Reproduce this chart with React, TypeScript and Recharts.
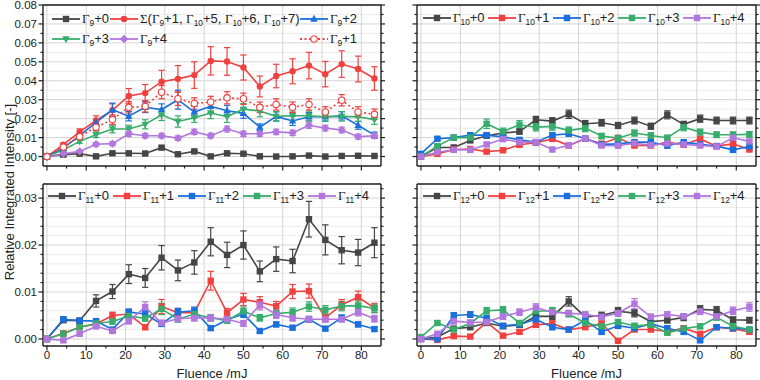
import React from 'react'
import { LineChart, Line, XAxis, YAxis, ReferenceLine, ErrorBar, Legend } from 'recharts'

type Shape = 'square' | 'circle' | 'up' | 'down' | 'diamond' | 'open'

interface Series {
  key: string
  label: string
  color: string
  shape: Shape
  values: number[]
  errors: number[]
  dotted?: boolean
}

const fluence = [0, 4.17, 8.33, 12.5, 16.67, 20.83, 25, 29.17, 33.33, 37.5, 41.67, 45.83, 50, 54.17, 58.33, 62.5, 66.67, 70.83, 75, 79.17, 83.33]

// Γ9 panel
const g9p0 = [0, 0.001, 0.0015, 0.0001, 0.0017, 0.0017, 0.0016, 0.0047, 0.0012, 0.0027, 0.0001, 0.0017, 0.0015, 0.0001, 0, 0.0001, 0.0005, 0, 0.0003, 0.0004, 0.0003]
const g9p0Err = [0, 0.0003, 0.0004, 0.0003, 0.0004, 0.0004, 0.0004, 0.0006, 0.0004, 0.0005, 0.0003, 0.0004, 0.0004, 0.0003, 0.0003, 0.0003, 0.0003, 0.0003, 0.0003, 0.0003, 0.0003]
const g9Sum = [0, 0.0063, 0.013, 0.019, 0.0245, 0.032, 0.0335, 0.0395, 0.041, 0.043, 0.0505, 0.0502, 0.047, 0.037, 0.0425, 0.045, 0.048, 0.0435, 0.0488, 0.0462, 0.0412]
const g9SumErr = [0, 0.0008, 0.0016, 0.0025, 0.0033, 0.0039, 0.0045, 0.006, 0.007, 0.007, 0.0075, 0.0073, 0.0066, 0.0055, 0.0062, 0.0066, 0.007, 0.0067, 0.007, 0.0068, 0.0062]
const g9p2 = [0, 0.0045, 0.011, 0.018, 0.0247, 0.0213, 0.026, 0.0248, 0.03, 0.0235, 0.0265, 0.0242, 0.0228, 0.0155, 0.0212, 0.0188, 0.021, 0.021, 0.0215, 0.0165, 0.0113]
const g9p2Err = [0, 0.0006, 0.0012, 0.0016, 0.0035, 0.0025, 0.0028, 0.003, 0.005, 0.003, 0.0032, 0.0028, 0.0026, 0.0017, 0.0024, 0.0024, 0.0022, 0.0022, 0.0022, 0.0021, 0.0016]
const g9p3 = [0, 0.0035, 0.008, 0.0115, 0.0145, 0.0145, 0.017, 0.022, 0.0185, 0.0205, 0.023, 0.021, 0.025, 0.024, 0.0212, 0.0215, 0.0215, 0.021, 0.0212, 0.021, 0.0195]
const g9p3Err = [0, 0.0006, 0.001, 0.0015, 0.002, 0.002, 0.0024, 0.003, 0.003, 0.0025, 0.003, 0.003, 0.003, 0.003, 0.0025, 0.0025, 0.0025, 0.0025, 0.0025, 0.0025, 0.0025]
const g9p4 = [-0.0003, 0.0015, 0.0027, 0.0065, 0.0068, 0.012, 0.011, 0.011, 0.0097, 0.013, 0.011, 0.0145, 0.012, 0.012, 0.013, 0.0125, 0.0165, 0.015, 0.014, 0.0105, 0.011]
const g9p4Err = [0, 0.0004, 0.0006, 0.0009, 0.001, 0.0014, 0.0012, 0.0012, 0.0012, 0.0014, 0.0013, 0.0015, 0.0014, 0.0013, 0.0014, 0.0014, 0.0016, 0.0015, 0.0015, 0.0013, 0.0012]
const g9p1 = [0, 0.005, 0.0105, 0.0155, 0.0195, 0.026, 0.0265, 0.034, 0.0305, 0.028, 0.0288, 0.031, 0.0305, 0.026, 0.0275, 0.026, 0.0275, 0.0235, 0.0297, 0.0235, 0.0223]
const g9p1Err = [0, 0.0008, 0.0012, 0.0018, 0.0025, 0.003, 0.003, 0.0035, 0.0035, 0.003, 0.003, 0.0032, 0.003, 0.0028, 0.003, 0.0028, 0.003, 0.0028, 0.003, 0.0028, 0.0028]

// Γ10 panel
const g10p0 = [0, 0.0048, 0.0048, 0.0085, 0.011, 0.0124, 0.0132, 0.0194, 0.0187, 0.0223, 0.0173, 0.0178, 0.0164, 0.019, 0.016, 0.022, 0.017, 0.02, 0.019, 0.019, 0.019]
const g10p0Err = [0, 0.0005, 0.0007, 0.0009, 0.0011, 0.0012, 0.0013, 0.0018, 0.0018, 0.0022, 0.0017, 0.0017, 0.0016, 0.0018, 0.0016, 0.0021, 0.0016, 0.0019, 0.0018, 0.0018, 0.0018]
const g10p1 = [0, 0.0014, 0.0037, 0.004, 0.0026, 0.0033, 0.0062, 0.0073, 0.0093, 0.0058, 0.0094, 0.0068, 0.0099, 0.0058, 0.0058, 0.0076, 0.0062, 0.0093, 0.0055, 0.0067, 0.0037]
const g10p1Err = [0, 0.0003, 0.0005, 0.0006, 0.0005, 0.0005, 0.0007, 0.0008, 0.001, 0.0007, 0.001, 0.0008, 0.001, 0.0007, 0.0007, 0.0008, 0.0007, 0.001, 0.0007, 0.0008, 0.0006]
const g10p2 = [0.0014, 0.0094, 0.01, 0.0113, 0.0113, 0.0104, 0.0088, 0.0076, 0.0113, 0.012, 0.0095, 0.0064, 0.0067, 0.0076, 0.0076, 0.0057, 0.0076, 0.0064, 0.0055, 0.0035, 0.0053]
const g10p2Err = [0.0003, 0.0008, 0.0008, 0.0009, 0.0009, 0.0009, 0.0008, 0.0007, 0.0009, 0.001, 0.0008, 0.0007, 0.0007, 0.0007, 0.0007, 0.0006, 0.0007, 0.0006, 0.0006, 0.0005, 0.0006]
const g10p3 = [0, 0.0055, 0.01, 0.01, 0.0173, 0.0132, 0.0168, 0.0155, 0.0159, 0.0138, 0.015, 0.0108, 0.0097, 0.0124, 0.0111, 0.0099, 0.0155, 0.0129, 0.0115, 0.0115, 0.0117]
const g10p3Err = [0, 0.0006, 0.001, 0.001, 0.0025, 0.0018, 0.0022, 0.002, 0.002, 0.0018, 0.0019, 0.0014, 0.0013, 0.0016, 0.0015, 0.0013, 0.0019, 0.0016, 0.0015, 0.0015, 0.0015]
const g10p4 = [0, 0.0023, 0.0035, 0.0035, 0.0064, 0.0092, 0.0076, 0.0076, 0.0037, 0.006, 0.0095, 0.0058, 0.0057, 0.007, 0.006, 0.0069, 0.0064, 0.0058, 0.0053, 0.0099, 0.008]
const g10p4Err = [0, 0.0004, 0.0005, 0.0005, 0.0007, 0.0009, 0.0008, 0.0008, 0.0005, 0.0007, 0.0009, 0.0007, 0.0007, 0.0008, 0.0007, 0.0008, 0.0007, 0.0007, 0.0006, 0.0009, 0.0008]

// Γ11 panel
const g11p0 = [0, 0.004, 0.0039, 0.0081, 0.0101, 0.0138, 0.013, 0.0173, 0.0146, 0.0163, 0.0207, 0.0179, 0.02, 0.0144, 0.017, 0.0166, 0.0255, 0.0211, 0.0189, 0.0184, 0.0205]
const g11p0Err = [0, 0.0004, 0.0004, 0.0013, 0.0015, 0.002, 0.002, 0.0026, 0.0022, 0.0025, 0.003, 0.0027, 0.003, 0.0022, 0.0026, 0.0025, 0.0038, 0.0032, 0.0029, 0.0028, 0.0032]
const g11p1 = [0, 0.0012, 0.0025, 0.0032, 0.005, 0.0053, 0.0025, 0.0069, 0.0056, 0.0056, 0.0124, 0.0056, 0.0084, 0.0078, 0.007, 0.0101, 0.0102, 0.0045, 0.0073, 0.0089, 0.0066]
const g11p1Err = [0, 0.0003, 0.0004, 0.0005, 0.0007, 0.0008, 0.0005, 0.0015, 0.0009, 0.0009, 0.002, 0.0009, 0.0013, 0.0012, 0.001, 0.0015, 0.0015, 0.0008, 0.0011, 0.0013, 0.001]
const g11p2 = [0, 0.0042, 0.0039, 0.0038, 0.002, 0.0057, 0.0053, 0.0032, 0.0057, 0.006, 0.0023, 0.0041, 0.0053, 0.0017, 0.0031, 0.0024, 0.0042, 0.0022, 0.0045, 0.0031, 0.0021]
const g11p2Err = [0, 0.0005, 0.0005, 0.0005, 0.0004, 0.0007, 0.0007, 0.0005, 0.0008, 0.0008, 0.0004, 0.0006, 0.0007, 0.0004, 0.0005, 0.0004, 0.0006, 0.0004, 0.0006, 0.0005, 0.0004]
const g11p3 = [0, 0.0011, 0.0025, 0.0033, 0.0037, 0.0049, 0.0044, 0.0064, 0.0042, 0.0053, 0.0045, 0.0039, 0.0059, 0.0045, 0.0054, 0.0057, 0.0069, 0.0062, 0.007, 0.0071, 0.0065]
const g11p3Err = [0, 0.0003, 0.0004, 0.0005, 0.0005, 0.0007, 0.0006, 0.0012, 0.0006, 0.0008, 0.0007, 0.0006, 0.0009, 0.0007, 0.0008, 0.0009, 0.001, 0.0009, 0.001, 0.001, 0.0009]
const g11p4 = [0, -0.0003, 0.0011, 0.0027, 0.0017, 0.0038, 0.0068, 0.0034, 0.0043, 0.0045, 0.0045, 0.0042, 0.0033, 0.0073, 0.0052, 0.0045, 0.0042, 0.0042, 0.0042, 0.0057, 0.0043]
const g11p4Err = [0, 0.0003, 0.0004, 0.0005, 0.0005, 0.0006, 0.0011, 0.0006, 0.0006, 0.0007, 0.0007, 0.0006, 0.0006, 0.0011, 0.0008, 0.0007, 0.0006, 0.0006, 0.0006, 0.0008, 0.0007]

// Γ12 panel
const g12p0 = [0, 0.0004, 0.0022, 0.0025, 0.0034, 0.0027, 0.003, 0.0048, 0.0048, 0.008, 0.0047, 0.005, 0.0059, 0.0055, 0.0037, 0.004, 0.0046, 0.0063, 0.0061, 0.0041, 0.004]
const g12p0Err = [0, 0.0003, 0.0004, 0.0004, 0.0005, 0.0004, 0.0005, 0.0007, 0.0007, 0.001, 0.0007, 0.0007, 0.0008, 0.0008, 0.0006, 0.0006, 0.0007, 0.0008, 0.0008, 0.0006, 0.0006]
const g12p1 = [0, -0.0002, 0.0006, 0.0005, 0.0036, 0.0007, 0.0015, 0.003, 0.0033, 0.002, 0.0025, 0.0033, -0.0004, 0.002, 0.002, 0.0016, 0.0023, 0.0011, 0.0025, 0.0022, 0.0015]
const g12p1Err = [0, 0.0003, 0.0003, 0.0003, 0.0005, 0.0003, 0.0004, 0.0005, 0.0005, 0.0004, 0.0004, 0.0005, 0.0003, 0.0004, 0.0004, 0.0004, 0.0004, 0.0003, 0.0004, 0.0004, 0.0004]
const g12p2 = [0, 0, 0.005, 0.0052, 0.0044, 0.0028, 0.0031, 0.0042, 0.0025, 0.002, 0.004, 0.0015, 0.0028, 0.0023, 0.0032, 0.0023, 0.0015, -0.0003, 0.0025, 0.0023, 0.002]
const g12p2Err = [0, 0.0003, 0.0006, 0.0006, 0.0006, 0.0005, 0.0005, 0.0006, 0.0005, 0.0004, 0.0005, 0.0004, 0.0005, 0.0004, 0.0005, 0.0004, 0.0004, 0.0003, 0.0004, 0.0004, 0.0004]
const g12p3 = [0.0004, 0.0034, 0.002, 0.0033, 0.006, 0.0062, 0.0034, 0.0059, 0.006, 0.0053, 0.0034, 0.0027, 0.0036, 0.0028, 0.003, 0.0013, 0.0022, 0.0027, 0.0046, 0.0027, 0.002]
const g12p3Err = [0.0003, 0.0004, 0.0004, 0.0005, 0.0007, 0.0007, 0.0005, 0.0007, 0.0007, 0.0006, 0.0005, 0.0005, 0.0005, 0.0005, 0.0005, 0.0004, 0.0004, 0.0005, 0.0006, 0.0005, 0.0004]
const g12p4 = [0, 0.0011, 0.0038, 0.0035, 0.0036, 0.0048, 0.0057, 0.0067, 0.0057, 0.0055, 0.0052, 0.0047, 0.0055, 0.0075, 0.0047, 0.0052, 0.0048, 0.0059, 0.0048, 0.006, 0.0068]
const g12p4Err = [0, 0.0004, 0.0006, 0.0005, 0.0005, 0.0006, 0.0007, 0.0008, 0.0007, 0.0006, 0.0006, 0.0006, 0.0007, 0.0011, 0.0006, 0.0006, 0.0006, 0.0007, 0.0006, 0.0008, 0.0009]

const xMajor = [0, 10, 20, 30, 40, 50, 60, 70, 80]
const xMinor = [5, 15, 25, 35, 45, 55, 65, 75]
const topYMajor = [0, 0.01, 0.02, 0.03, 0.04, 0.05, 0.06, 0.07, 0.08]
const topYMinor = [0.005, 0.015, 0.025, 0.035, 0.045, 0.055, 0.065, 0.075]
const botYMajor = [0, 0.01, 0.02, 0.03]
const botYMinor = [0.002, 0.004, 0.006, 0.008, 0.012, 0.014, 0.016, 0.018, 0.022, 0.024, 0.026, 0.028, 0.032]

const GRAY = '#454545'
const RED = '#f14040'
const BLUE = '#1a6fdf'
const GREEN = '#37ad6b'
const PURPLE = '#b177de'
const AXIS = '#1e1e1e'
const TXT = '#222'
const FONT = '"Liberation Sans", Arial, sans-serif'
const SERIF = '"Liberation Serif", "Times New Roman", serif'

const g9Series: Series[] = [
  { key: 'a', label: 'Γ9+0', color: GRAY, shape: 'square', values: g9p0, errors: g9p0Err },
  { key: 'b', label: 'Σ(Γ9+1, Γ10+5, Γ10+6, Γ10+7)', color: RED, shape: 'circle', values: g9Sum, errors: g9SumErr },
  { key: 'c', label: 'Γ9+2', color: BLUE, shape: 'up', values: g9p2, errors: g9p2Err },
  { key: 'd', label: 'Γ9+3', color: GREEN, shape: 'down', values: g9p3, errors: g9p3Err },
  { key: 'e', label: 'Γ9+4', color: PURPLE, shape: 'diamond', values: g9p4, errors: g9p4Err },
  { key: 'f', label: 'Γ9+1', color: RED, shape: 'open', values: g9p1, errors: g9p1Err, dotted: true },
]

const squares = (n: number, vals: number[][], errs: number[][]): Series[] =>
  [GRAY, RED, BLUE, GREEN, PURPLE].map((color, i) => ({
    key: 's' + i,
    label: `Γ${n}+${i}`,
    color,
    shape: 'square' as Shape,
    values: vals[i],
    errors: errs[i],
  }))

const g10Series = squares(10, [g10p0, g10p1, g10p2, g10p3, g10p4], [g10p0Err, g10p1Err, g10p2Err, g10p3Err, g10p4Err])
const g11Series = squares(11, [g11p0, g11p1, g11p2, g11p3, g11p4], [g11p0Err, g11p1Err, g11p2Err, g11p3Err, g11p4Err])
const g12Series = squares(12, [g12p0, g12p1, g12p2, g12p3, g12p4], [g12p0Err, g12p1Err, g12p2Err, g12p3Err, g12p4Err])

// legend slots: [left, top] inside the legend box
const g9Slots = [[0, 0], [58, 0], [248, 0], [0, 20], [58, 20], [248, 20]]
const rowSlots = [[0, 0], [65, 0], [130, 0], [195, 0], [260, 0]]

function marker(shape: Shape, color: string, size: number, cx: number, cy: number, key: any) {
  const r = size
  switch (shape) {
    case 'square':
      return <rect key={key} x={cx - r} y={cy - r} width={2 * r} height={2 * r} fill={color} />
    case 'circle':
      return <circle key={key} cx={cx} cy={cy} r={r} fill={color} />
    case 'open':
      return <circle key={key} cx={cx} cy={cy} r={r} fill="#fff" stroke={color} strokeWidth={1.1} />
    case 'up':
      return <polygon key={key} points={`${cx},${cy - r - 1} ${cx + r + 0.5},${cy + r - 0.5} ${cx - r - 0.5},${cy + r - 0.5}`} fill={color} />
    case 'down':
      return <polygon key={key} points={`${cx},${cy + r + 1} ${cx + r + 0.5},${cy - r + 0.5} ${cx - r - 0.5},${cy - r + 0.5}`} fill={color} />
    case 'diamond':
      return <polygon key={key} points={`${cx},${cy - r - 1} ${cx + r + 1},${cy} ${cx},${cy + r + 1} ${cx - r - 1},${cy}`} fill={color} />
  }
}

function RichLabel({ text }: { text: string }) {
  const parts = text.split(/(Γ\d+|Σ)/).filter((p) => p !== '')
  return (
    <span style={{ whiteSpace: 'nowrap' }}>
      {parts.map((p, i) => {
        if (p === 'Σ') return <span key={i} style={{ fontFamily: SERIF }}>Σ</span>
        if (p.startsWith('Γ'))
          return (
            <span key={i}>
              <span style={{ fontFamily: SERIF }}>Γ</span>
              <span style={{ fontSize: '0.64em', position: 'relative', top: '0.4em' }}>{p.slice(1)}</span>
            </span>
          )
        return <span key={i}>{p}</span>
      })}
    </span>
  )
}

function LegendBox({ series, slots }: { series: Series[]; slots: number[][] }) {
  return (
    <div style={{ position: 'relative', width: 320, height: 40, fontFamily: FONT, fontSize: 13, color: TXT }}>
      {series.map((s, i) => (
        <div
          key={s.key}
          style={{ position: 'absolute', left: slots[i][0], top: slots[i][1], display: 'flex', alignItems: 'center', height: 20, whiteSpace: 'nowrap' }}
        >
          <svg width={28} height={12} style={{ flex: 'none' }}>
            <line x1={0} x2={28} y1={6} y2={6} stroke={s.color} strokeWidth={1.8} strokeDasharray={s.dotted ? '2 2.5' : undefined} />
            {marker(s.shape, s.color, 3.2, 14, 6, 'm')}
          </svg>
          <span style={{ marginLeft: 2 }}>
            <RichLabel text={s.label} />
          </span>
        </div>
      ))}
    </div>
  )
}

const near = (v: number, list: number[]) => list.some((m) => Math.abs(m - v) < 1e-9)

interface PanelProps {
  series: Series[]
  left: number
  top: number
  width: number
  height: number
  leftAxisWidth: number
  bottomAxisHeight: number
  yDomain: [number, number]
  yMajor: number[]
  yMinor: number[]
  xLabels: boolean
  yLabels: boolean
  legendLeft: number
  legendTop: number
  legendSlots: number[][]
  topGap: number
}

function Panel(props: PanelProps) {
  const { series, yMajor, yMinor, xLabels, yLabels } = props
  const data = fluence.map((x, i) => {
    const row: Record<string, number> = { x }
    series.forEach((s) => {
      row[s.key] = s.values[i]
      row[s.key + 'E'] = s.errors[i]
    })
    return row
  })
  const yTicks = [...yMajor, ...yMinor].sort((a, b) => a - b)
  const xTicks = [...xMajor, ...xMinor].sort((a, b) => a - b)

  const bottomTick = (p: any) => {
    const v = p.payload.value
    const major = near(v, xMajor)
    return (
      <g>
        <line x1={p.x} x2={p.x} y1={p.y} y2={p.y + (major ? 4.5 : 2.5)} stroke={AXIS} strokeWidth={1.2} />
        {xLabels && major && (
          <text x={p.x} y={p.y + 5} dy="0.71em" textAnchor="middle" fontSize={11.5} fill={TXT} fontFamily={FONT}>
            {v}
          </text>
        )}
      </g>
    )
  }
  const leftTick = (p: any) => {
    const v = p.payload.value
    const major = near(v, yMajor)
    return (
      <g>
        <line x1={p.x} x2={p.x - (major ? 4.5 : 2.5)} y1={p.y} y2={p.y} stroke={AXIS} strokeWidth={1.2} />
        {yLabels && major && (
          <text x={p.x - 6} y={p.y} dy="0.35em" textAnchor="end" fontSize={11.5} fill={TXT} fontFamily={FONT}>
            {v.toFixed(2)}
          </text>
        )}
      </g>
    )
  }
  const rightTick = (p: any) => {
    const major = near(p.payload.value, yMajor)
    return (
      <g>
        <line x1={p.x} x2={p.x + (major ? 4.5 : 2.5)} y1={p.y} y2={p.y} stroke={AXIS} strokeWidth={1.2} />
      </g>
    )
  }

  return (
    <div style={{ position: 'absolute', left: props.left, top: props.top }}>
      <LineChart
        width={props.width}
        height={props.height}
        data={data}
        margin={{ top: props.topGap, right: 0, bottom: 0, left: 3 }}
      >
        {yMinor.map((v) => (
          <ReferenceLine key={'hm' + v} y={v} stroke="#ececec" strokeWidth={1} />
        ))}
        {yMajor.map((v) => (
          <ReferenceLine key={'hM' + v} y={v} stroke="#d4d4d4" strokeWidth={1} />
        ))}
        {xMajor.map((v) => (
          <ReferenceLine key={'vM' + v} x={v} stroke="#d4d4d4" strokeWidth={1} />
        ))}
        <XAxis
          dataKey="x"
          type="number"
          domain={[-1, 85]}
          allowDataOverflow
          ticks={xTicks}
          interval={0}
          height={props.bottomAxisHeight}
          tickSize={0}
          tickMargin={0}
          tickLine={false}
          tick={bottomTick}
          axisLine={{ stroke: AXIS, strokeWidth: 1.4 }}
          label={xLabels ? { value: 'Fluence /mJ', position: 'insideBottom', offset: 2, fontSize: 13, fill: TXT, fontFamily: FONT } : undefined}
        />
        <XAxis
          xAxisId="top"
          orientation="top"
          type="number"
          domain={[-1, 85]}
          allowDataOverflow
          height={1}
          tick={false}
          tickLine={false}
          axisLine={{ stroke: AXIS, strokeWidth: 1.4 }}
        />
        <YAxis
          type="number"
          domain={props.yDomain}
          allowDataOverflow
          ticks={yTicks}
          interval={0}
          width={props.leftAxisWidth}
          tickSize={0}
          tickMargin={0}
          tickLine={false}
          tick={leftTick}
          axisLine={{ stroke: AXIS, strokeWidth: 1.4 }}
        />
        <YAxis
          yAxisId="r"
          orientation="right"
          type="number"
          domain={props.yDomain}
          allowDataOverflow
          ticks={yTicks}
          interval={0}
          width={4}
          tickSize={0}
          tickMargin={0}
          tickLine={false}
          tick={rightTick}
          axisLine={{ stroke: AXIS, strokeWidth: 1.4 }}
        />
        <Legend
          layout="horizontal"
          verticalAlign="middle"
          align="center"
          wrapperStyle={{ left: props.legendLeft, top: props.legendTop, width: 320 }}
          content={() => <LegendBox series={series} slots={props.legendSlots} />}
        />
        {series.map((s) => (
          <Line
            key={s.key}
            dataKey={s.key}
            type="linear"
            stroke={s.color}
            strokeWidth={1.6}
            strokeDasharray={s.dotted ? '2 2.5' : undefined}
            dot={(p: any) => marker(s.shape, s.color, 3.2, p.cx, p.cy, p.key ?? p.index)}
            activeDot={false}
            isAnimationActive={false}
          >
            <ErrorBar dataKey={s.key + 'E'} direction="y" width={3.2} stroke={s.color} strokeWidth={1.2} isAnimationActive={false} />
          </Line>
        ))}
      </LineChart>
    </div>
  )
}

export default function App() {
  return (
    <div style={{ position: 'fixed', left: 0, top: 0, width: 760, height: 380, background: '#fff', overflow: 'hidden', fontFamily: FONT }}>
      <Panel
        series={g9Series}
        left={0}
        top={0}
        width={385}
        height={180}
        leftAxisWidth={40}
        bottomAxisHeight={14}
        topGap={4}
        yDomain={[-0.005, 0.08]}
        yMajor={topYMajor}
        yMinor={topYMinor}
        xLabels={false}
        yLabels
        legendLeft={52}
        legendTop={9}
        legendSlots={g9Slots}
      />
      <Panel
        series={g10Series}
        left={380}
        top={0}
        width={380}
        height={180}
        leftAxisWidth={34}
        bottomAxisHeight={14}
        topGap={4}
        yDomain={[-0.005, 0.08]}
        yMajor={topYMajor}
        yMinor={topYMinor}
        xLabels={false}
        yLabels={false}
        legendLeft={43}
        legendTop={8}
        legendSlots={rowSlots}
      />
      <Panel
        series={g11Series}
        left={0}
        top={180}
        width={385}
        height={200}
        leftAxisWidth={40}
        bottomAxisHeight={34}
        topGap={3}
        yDomain={[-0.0015, 0.033]}
        yMajor={botYMajor}
        yMinor={botYMinor}
        xLabels
        yLabels
        legendLeft={48}
        legendTop={6}
        legendSlots={rowSlots}
      />
      <Panel
        series={g12Series}
        left={380}
        top={180}
        width={380}
        height={200}
        leftAxisWidth={34}
        bottomAxisHeight={34}
        topGap={3}
        yDomain={[-0.0015, 0.033]}
        yMajor={botYMajor}
        yMinor={botYMinor}
        xLabels
        yLabels={false}
        legendLeft={43}
        legendTop={6}
        legendSlots={rowSlots}
      />
      <div
        style={{
          position: 'absolute',
          left: 9,
          top: 192,
          transform: 'translate(-50%, -50%) rotate(-90deg)',
          whiteSpace: 'nowrap',
          fontSize: 13,
          color: TXT,
        }}
      >
        Relative Integrated Intensity [-]
      </div>
    </div>
  )
}
